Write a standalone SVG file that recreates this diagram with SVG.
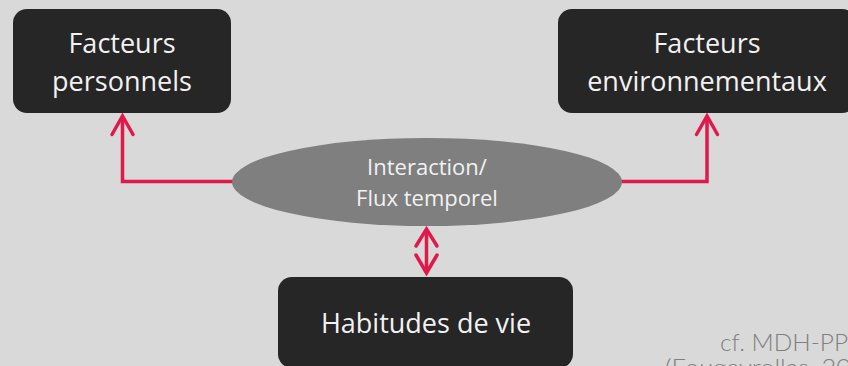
<svg xmlns="http://www.w3.org/2000/svg" width="848" height="366" viewBox="0 0 848 366">
  <defs>
    <style>
      .box { fill: #262626; }
      .ell { fill: #7f7f7f; }
      .t { font-family: "Open Sans", "Noto Sans", sans-serif; fill: #f2f2f2; text-anchor: middle; }
      .big { font-size: 27px; }
      .small { font-size: 22px; }
      .conn { fill: none; stroke: #E0194B; stroke-width: 3.5; stroke-linecap: butt; stroke-linejoin: miter; }
      .head { fill: none; stroke: #E0194B; stroke-width: 3.5; stroke-linecap: round; stroke-linejoin: miter; }
      .ref { font-family: "Lato", "DejaVu Sans", sans-serif; font-weight: 300; font-size: 23px; fill: #7f7f7f; }
    </style>
  </defs>
  <rect width="848" height="366" fill="#d9d9d9"/>

  <g id="connectors">
    <polyline class="conn" points="234,181.5 122.5,181.5 122.5,117"/>
    <polyline class="head" points="112,134.5 122.5,116 133,134.5"/>
    <polyline class="conn" points="620,181.5 707,181.5 707,117"/>
    <polyline class="head" points="696.5,134.5 707,116 717.5,134.5"/>
    <line class="conn" x1="426.5" y1="230" x2="426.5" y2="272"/>
    <polyline class="head" points="416,246 426.5,229 437,246"/>
    <polyline class="head" points="416,255 426.5,273 437,255"/>
  </g>

  <g id="node-personnels">
    <rect class="box" x="13" y="9" width="218" height="104" rx="14"/>
    <text class="t big" x="122" y="53">Facteurs</text>
    <text class="t big" x="122" y="91">personnels</text>
  </g>

  <g id="node-environnementaux">
    <rect class="box" x="558" y="9" width="298" height="104" rx="14"/>
    <text class="t big" x="707" y="53">Facteurs</text>
    <text class="t big" x="707" y="91">environnementaux</text>
  </g>

  <g id="node-interaction">
    <ellipse class="ell" cx="427" cy="182" rx="195" ry="44"/>
    <text class="t small" x="427" y="175">Interaction/</text>
    <text class="t small" x="427" y="206">Flux temporel</text>
  </g>

  <g id="node-habitudes">
    <rect class="box" x="278" y="277" width="295" height="91" rx="14"/>
    <text class="t big" x="426" y="333">Habitudes de vie</text>
  </g>

  <g id="reference">
    <text class="ref" x="720" y="351" textLength="128" lengthAdjust="spacingAndGlyphs">cf. MDH-PP</text>
    <text class="ref" x="665" y="376" textLength="186" lengthAdjust="spacingAndGlyphs">(Fougeyrollas, 20</text>
  </g>
</svg>
